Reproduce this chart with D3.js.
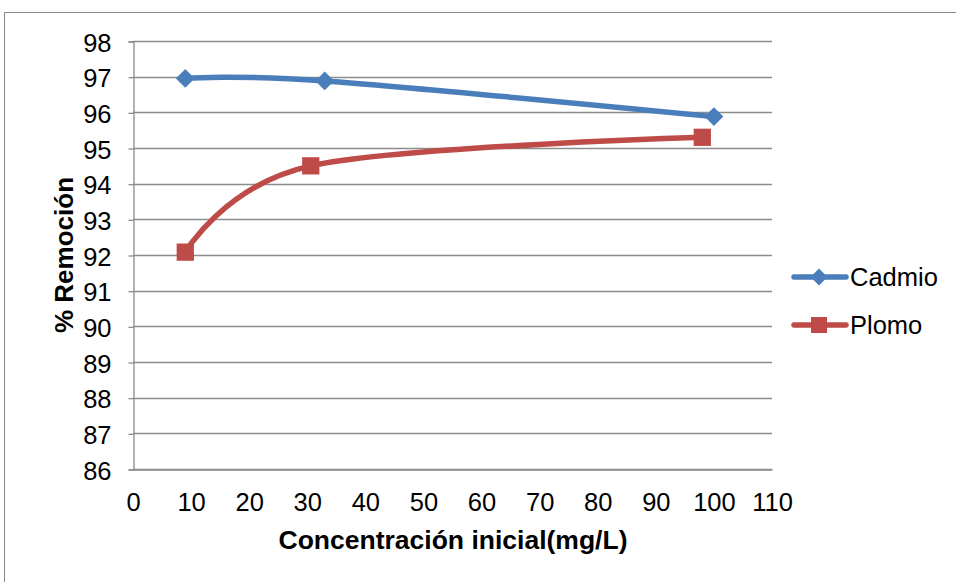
<!DOCTYPE html>
<html>
<head>
<meta charset="utf-8">
<script src="https://cdn.jsdelivr.net/npm/d3@7"></script>
<style>
  html, body { margin: 0; padding: 0; background: #fff; }
  svg { display: block; font-family: "Liberation Sans", Arial, sans-serif; }
</style>
</head>
<body>
<svg id="chart" width="956" height="582"></svg>
<script>
// Removal percentage vs initial concentration
const cadmioX = [9, 33, 100];
const cadmioY = [96.95, 96.88, 95.88];
const plomoX = [9, 30.6, 98];
const plomoY = [92.08, 94.5, 95.3];
const xTicks = [0, 10, 20, 30, 40, 50, 60, 70, 80, 90, 100, 110];
const yTicks = [86, 87, 88, 89, 90, 91, 92, 93, 94, 95, 96, 97, 98];
const seriesNames = ["Cadmio", "Plomo"];
const seriesColors = ["#4A7EBB", "#BE4B48"];

const FONT = "'Liberation Sans', Arial, sans-serif";
const svg = d3.select("#chart");

// outer chart frame
svg.append("rect")
  .attr("x", 4.5).attr("y", 12.5)
  .attr("width", 1000).attr("height", 1000)
  .attr("fill", "none").attr("stroke", "#888").attr("stroke-width", 1);

const plotLeft = 133, plotRight = 772, plotTop = 41, plotBottom = 469;
const x = d3.scaleLinear().domain([0, 110]).range([plotLeft, plotRight]);
const y = d3.scaleLinear().domain([86, 98]).range([plotBottom, plotTop]);

// horizontal gridlines
svg.append("g")
  .selectAll("line")
  .data(yTicks)
  .join("line")
  .attr("x1", plotLeft).attr("x2", plotRight)
  .attr("y1", d => Math.round(y(d)) + 0.5).attr("y2", d => Math.round(y(d)) + 0.5)
  .attr("stroke", "#8c8c8c").attr("stroke-width", 1.3);

// y axis
const yAxis = d3.axisLeft(y).tickValues(yTicks).tickSize(5).tickPadding(17);
const gy = svg.append("g").attr("transform", `translate(${plotLeft + 0.5},0.5)`).call(yAxis);
gy.select(".domain").attr("stroke", "#8c8c8c").attr("stroke-width", 1.3);
gy.selectAll(".tick line").attr("stroke", "#8c8c8c").attr("stroke-width", 1.3);
gy.selectAll(".tick text").attr("font-size", 25.5).attr("fill", "#000")
  .attr("font-family", FONT).attr("dy", "0.38em");

// x axis
const xAxis = d3.axisBottom(x).tickValues(xTicks).tickSize(0).tickPadding(23);
const gx = svg.append("g").attr("transform", `translate(0,${plotBottom + 0.5})`).call(xAxis);
gx.select(".domain").attr("stroke", "#8c8c8c").attr("stroke-width", 1.3);
gx.selectAll(".tick text").attr("font-size", 25.5).attr("fill", "#000")
  .attr("font-family", FONT);

// axis titles
svg.append("text")
  .attr("x", 453).attr("y", 549)
  .attr("text-anchor", "middle")
  .attr("font-size", 26.5).attr("font-weight", "bold")
  .text("Concentración inicial(mg/L)");

svg.append("text")
  .attr("transform", "translate(73,255) rotate(-90)")
  .attr("text-anchor", "middle")
  .attr("font-size", 26).attr("font-weight", "bold")
  .text("% Remoción");

// series
const series = [
  { name: seriesNames[0], color: seriesColors[0], pts: cadmioX.map((v, i) => [v, cadmioY[i]]), shape: "diamond" },
  { name: seriesNames[1], color: seriesColors[1], pts: plomoX.map((v, i) => [v, plomoY[i]]), shape: "square" }
];

const line = d3.line()
  .x(d => x(d[0])).y(d => y(d[1]))
  .curve(d3.curveCatmullRom.alpha(0));

const diamond = d3.symbol().type(d3.symbolDiamond2).size(225)();
const square = d3.symbol().type(d3.symbolSquare2).size(380)();
const diamondLeg = d3.symbol().type(d3.symbolDiamond2).size(185)();
const squareLeg = d3.symbol().type(d3.symbolSquare2).size(325)();

series.forEach(s => {
  svg.append("path")
    .attr("d", line(s.pts))
    .attr("fill", "none")
    .attr("stroke", s.color)
    .attr("stroke-width", 5.5)
    .attr("stroke-linecap", "round");
  svg.append("g").selectAll("path")
    .data(s.pts)
    .join("path")
    .attr("transform", d => `translate(${x(d[0])},${y(d[1])})`)
    .attr("d", s.shape === "diamond" ? diamond : square)
    .attr("fill", s.color);
});

// legend
const legend = svg.append("g");
series.forEach((s, i) => {
  const ly = 277 + i * 48;
  legend.append("line")
    .attr("x1", 794).attr("x2", 846)
    .attr("y1", ly).attr("y2", ly)
    .attr("stroke", s.color).attr("stroke-width", 5.5)
    .attr("stroke-linecap", "round");
  legend.append("path")
    .attr("transform", `translate(819,${ly})`)
    .attr("d", s.shape === "diamond" ? diamondLeg : squareLeg)
    .attr("fill", s.color);
  legend.append("text")
    .attr("x", 850).attr("y", ly + 9)
    .attr("font-size", 25.5)
    .attr("font-family", FONT)
    .text(s.name);
});
</script>
</body>
</html>
